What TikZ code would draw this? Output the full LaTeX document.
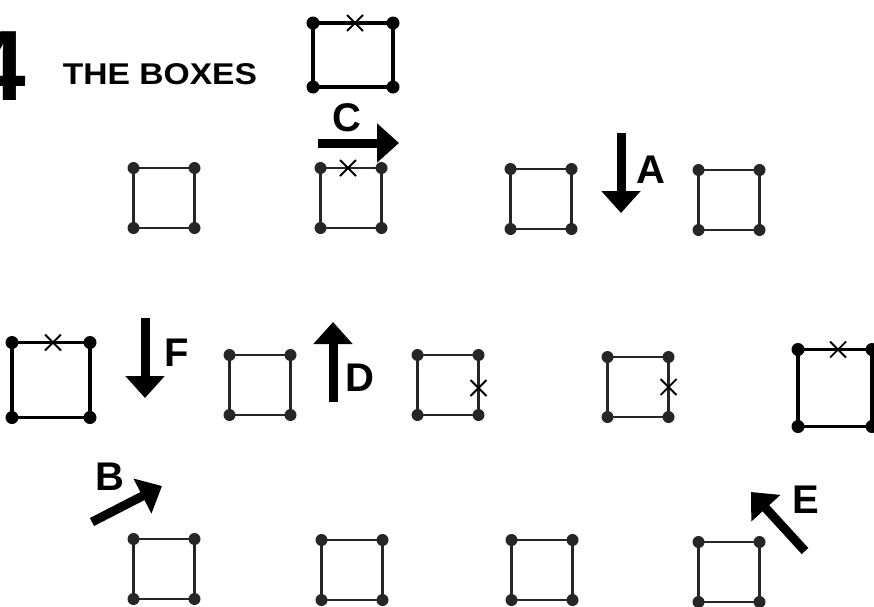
\documentclass[tikz,border=0pt]{standalone}
\usepackage{fontspec}
\setmainfont{Liberation Sans}
\usetikzlibrary{arrows.meta}

\begin{document}
\begin{tikzpicture}[x=1pt,y=-1pt,
  sbox/.style={draw=black!85, line width=2.8pt, inner sep=0pt, outer sep=0pt, minimum width=61pt, minimum height=60pt},
  bbox/.style={draw, line width=3.4pt, inner sep=0pt, outer sep=0pt, minimum width=78pt, minimum height=75pt},
  mv/.style={line width=9pt, -{Triangle[length=22pt,width=38pt]}},
  lbl/.style={font=\bfseries\fontsize{40}{40}\selectfont, inner sep=0pt},
  cross/.style={line width=1.8pt}]
\useasboundingbox (0,0) rectangle (874,606);

% heading
\node[font=\bfseries\fontsize{100}{100}\selectfont, anchor=base east, inner sep=0pt] (num) at (26,100) {4};
\node[font=\bfseries\fontsize{30}{30}\selectfont, inner sep=0pt] (title) at (160,74) {\scalebox{1.12}[1]{THE BOXES}};

% the model box
\node[bbox, minimum width=80pt, minimum height=64pt] (model) at (353,55) {};

% small boxes, three rows
\foreach \n/\x/\y in {r1a/164/198, r1b/351/198, r1c/541/199, r1d/729/200,
  r2b/260/385, r2c/448/385, r2d/638/387,
  r3a/164/569, r3b/352/570, r3c/542/570, r3d/729/572}
  \node[sbox] (\n) at (\x,\y) {};

% large boxes, middle row
\node[bbox] (r2a) at (51,380) {};
\node[bbox, minimum width=74pt, minimum height=77pt] (r2e) at (835,388) {};

% corner dots
\foreach \b in {r1a,r1b,r1c,r1d,r2b,r2c,r2d,r3a,r3b,r3c,r3d}
  \foreach \a in {north west,north east,south west,south east}
    \fill[black!85] (\b.\a) circle (6pt);
\foreach \b in {model,r2a,r2e}
  \foreach \a in {north west,north east,south west,south east}
    \fill (\b.\a) circle (6.5pt);

% crosses
\foreach \c/\dx/\dy in {model.north/2/0, r1b.north/-3/0, r2a.north/2/0,
  r2e.north/3/0, r2c.east/0/-3, r2d.east/0/0}
  \draw[cross] ([xshift=\dx pt,yshift=\dy pt]\c) ++(-8,-8) -- ++(16,16)
    ([xshift=\dx pt,yshift=\dy pt]\c) ++(-8,8) -- ++(16,-16);

% arrows and their letters
\draw[mv] (318,143) -- (399,143);
\node[lbl] (lc) at (347,118) {C};
\draw[mv] (621,133) -- (621,213);
\node[lbl] (la) at (651,170) {A};
\draw[mv] (145,318) -- (145,398);
\node[lbl] (lf) at (177,353) {F};
\draw[mv] (333,402) -- (333,322);
\node[lbl] (ld) at (360,378) {D};
\draw[mv] (92,522) -- (162,486);
\node[lbl] (lb) at (110,477) {B};
\draw[mv] (805,551) -- (751,492);
\node[lbl] (le) at (806,500) {E};
\end{tikzpicture}
\end{document}
